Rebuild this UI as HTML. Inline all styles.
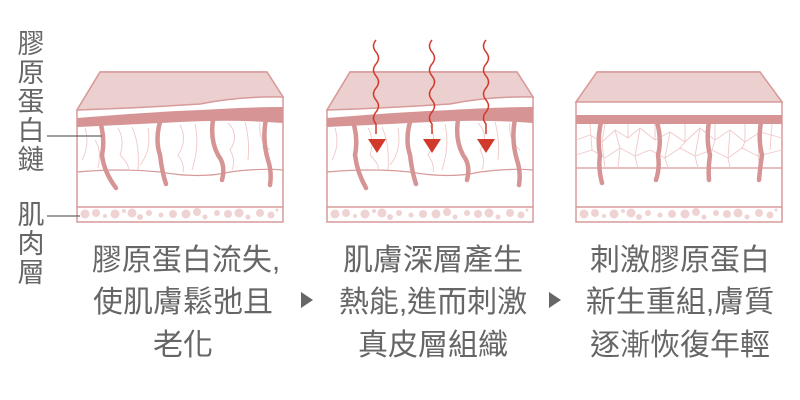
<!DOCTYPE html>
<html><head><meta charset="utf-8"><style>
html,body{margin:0;padding:0;background:#fff;width:800px;height:400px;overflow:hidden}
svg{display:block}
text{font-family:"Liberation Sans","Noto Sans CJK TC",sans-serif;fill:#666}
</style></head><body>
<svg width="800" height="400" viewBox="0 0 800 400" xmlns="http://www.w3.org/2000/svg">
<defs>
<g id="fat">
  <g fill="#efd3d3">
  <circle cx="8" cy="214" r="4.5"/><circle cx="19" cy="213" r="4"/><circle cx="28" cy="216" r="2"/><circle cx="38" cy="214" r="4.5"/><circle cx="47" cy="211" r="2"/><circle cx="55" cy="213" r="4.5"/><circle cx="63" cy="217" r="3"/><circle cx="72" cy="213" r="3"/><circle cx="84" cy="215" r="2.5"/><circle cx="96" cy="214" r="4"/><circle cx="109" cy="214" r="4.5"/><circle cx="120" cy="212" r="4"/><circle cx="128" cy="217" r="2.5"/><circle cx="140" cy="213" r="3"/><circle cx="151" cy="214" r="4"/><circle cx="162" cy="213" r="4.5"/><circle cx="171" cy="217" r="2.5"/><circle cx="183" cy="213" r="4"/><circle cx="194" cy="215" r="3.5"/><circle cx="200" cy="210" r="1.5"/>
  </g>
</g>
</defs>

<!-- Panel 1 -->
<g stroke="#d89a9a" stroke-width="1.5" fill="none">
  <path d="M100,72 L267,72 L283,97 L283,222 L77,222 L77,110 Z" fill="#fff"/>
  <path d="M100,72 L267,72 L283,97 Q240,96 200,104 Q140,108 77,110 Z" fill="#eccfcf"/>
  <path d="M77,118 Q150,112 200,110 Q250,107 283,107 L283,123 Q230,119 180,122 Q120,125 77,127 Z" fill="#d69494" stroke="none"/>
  <path d="M77,172 Q120,168 160,172 Q200,179 230,172 Q260,168 283,170" stroke-width="1.2"/>
  <line x1="77" y1="207" x2="283" y2="207"/>
  <g stroke="#f0c8c8" stroke-width="0.9">
    <path d="M85,128 Q90,145 82,160"/><path d="M118,128 Q125,140 120,155 Q130,165 128,170"/><path d="M132,127 Q140,145 138,170"/><path d="M148,128 Q152,150 140,165"/><path d="M180,125 Q188,140 178,155 Q185,165 183,172"/><path d="M195,124 Q200,145 192,170"/><path d="M228,123 Q240,135 230,150 Q236,160 232,170"/><path d="M245,122 Q250,140 248,160"/><path d="M260,123 Q258,140 270,150"/><path d="M95,140 Q102,150 98,168"/>
  </g>
  <g stroke="#d69494" stroke-width="4.5" stroke-linecap="round">
    <path d="M101,125 Q105,140 102,155 Q104,172 116,188"/>
    <path d="M160,122 Q155,140 160,155 Q162,172 166,184"/>
    <path d="M213,120 Q210,140 218,155 Q226,165 222,180"/>
    <path d="M266,119 Q262,140 268,160 Q272,172 270,185"/>
  </g>
</g>
<g transform="translate(77,0)"><use href="#fat"/></g>

<!-- Panel 2 -->
<g stroke="#d89a9a" stroke-width="1.5" fill="none">
  <path d="M350,72 L517,72 L533,97 L533,222 L327,222 L327,110 Z" fill="#fff"/>
  <path d="M350,72 L517,72 L533,97 Q490,96 450,104 Q390,108 327,110 Z" fill="#eccfcf"/>
  <path d="M327,118 Q400,112 450,110 Q500,107 533,107 L533,123 Q480,119 430,122 Q370,125 327,127 Z" fill="#d69494" stroke="none"/>
  <path d="M327,172 Q370,168 410,172 Q450,179 480,172 Q510,168 533,170" stroke-width="1.2"/>
  <line x1="327" y1="207" x2="533" y2="207"/>
  <g stroke="#f0c8c8" stroke-width="0.9">
    <path d="M335,128 Q340,145 332,160"/><path d="M368,128 Q375,140 370,155 Q380,165 378,170"/><path d="M382,127 Q390,145 388,170"/><path d="M398,128 Q402,150 390,165"/><path d="M430,125 Q438,140 428,155 Q435,165 433,172"/><path d="M445,124 Q450,145 442,170"/><path d="M478,123 Q490,135 480,150 Q486,160 482,170"/><path d="M495,122 Q500,140 498,160"/><path d="M510,123 Q508,140 520,150"/>
  </g>
  <g stroke="#d69494" stroke-width="4.5" stroke-linecap="round">
    <path d="M354,125 Q358,140 355,155 Q357,172 366,188"/>
    <path d="M410,122 Q405,140 410,155 Q412,172 416,184"/>
    <path d="M458,120 Q455,140 463,155 Q471,165 467,180"/>
    <path d="M515,119 Q511,140 517,160 Q521,172 519,185"/>
  </g>
</g>
<g transform="translate(327,0)"><use href="#fat"/></g>
<g stroke="#d13a2a" stroke-width="1.5" fill="none">
  <path d="M376,40 q-5,6 0,12 q5,6 0,12 q-5,6 0,12 q5,6 0,12 q-5,6 0,12 q5,6 0,12 q-5,6 0,12 l0,10"/>
  <path d="M432,40 q-5,6 0,12 q5,6 0,12 q-5,6 0,12 q5,6 0,12 q-5,6 0,12 q5,6 0,12 q-5,6 0,12 l0,10"/>
  <path d="M486,40 q-5,6 0,12 q5,6 0,12 q-5,6 0,12 q5,6 0,12 q-5,6 0,12 q5,6 0,12 q-5,6 0,12 l0,10"/>
</g>
<g fill="#d13a2a">
  <path d="M368,139 L386,139 L377,153 Z"/><path d="M423,139 L441,139 L432,153 Z"/><path d="M477,139 L495,139 L486,153 Z"/>
</g>

<!-- Panel 3 -->
<g stroke="#d89a9a" stroke-width="1.5" fill="none">
  <path d="M597,72 L760,72 L782,102 L782,222 L576,222 L576,102 Z" fill="#fff"/>
  <path d="M597,72 L760,72 L782,102 L576,102 Z" fill="#eccfcf"/>
  <rect x="576" y="115" width="206" height="9" fill="#d69494" stroke="none"/>
  <line x1="576" y1="168" x2="782" y2="168" stroke-width="1.2"/>
  <line x1="576" y1="207" x2="782" y2="207"/>
  <g stroke="#f0c8c8" stroke-width="0.9">
    <path d="M576,140 L590,135 L602,142 L615,130 L628,138 L640,128 L655,140 L670,132 L685,142 L700,128 L715,140 L730,130 L745,142 L760,132 L782,138"/>
    <path d="M576,155 L592,150 L605,158 L620,148 L635,156 L650,150 L665,158 L680,148 L695,156 L712,150 L728,158 L742,148 L758,156 L782,150"/>
    <path d="M590,124 L592,150 M605,124 L602,142 L605,168 M615,130 L620,148 L618,168 M628,124 L628,138 M640,128 L635,156 L638,168 M655,124 L655,140 M670,132 L665,158 L668,168 M685,124 L685,142 L680,148 M700,128 L695,156 L698,168 M715,124 L715,140 L712,150 M730,130 L728,158 L730,168 M745,124 L745,142 L742,148 M760,132 L758,156 L760,168 M772,124 L770,150"/>
  </g>
  <g stroke="#d69494" stroke-width="4.5" stroke-linecap="round">
    <path d="M601,122 Q597,140 600,155 Q598,168 602,183"/>
    <path d="M657,122 Q662,140 658,155 Q660,168 656,180"/>
    <path d="M709,122 Q706,140 710,155 Q708,168 709,180"/>
    <path d="M761,122 Q758,140 762,155 Q760,168 759,180"/>
  </g>
</g>
<g transform="translate(576,0)"><use href="#fat"/></g>

<!-- left labels -->
<g font-size="27" text-anchor="middle">
  <text x="31" y="53">膠</text><text x="31" y="82">原</text><text x="31" y="111">蛋</text><text x="31" y="140">白</text><text x="31" y="169">鏈</text>
  <text x="31" y="224">肌</text><text x="31" y="253">肉</text><text x="31" y="282">層</text>
</g>
<line x1="47" y1="136" x2="102" y2="136" stroke="#666" stroke-width="1.2"/>
<line x1="47" y1="216" x2="80" y2="216" stroke="#666" stroke-width="1.2"/>

<!-- captions -->
<g font-size="30" text-anchor="middle">
  <text x="186" y="270">膠原蛋白流失,</text>
  <text x="183" y="312">使肌膚鬆弛且</text>
  <text x="183" y="355">老化</text>
  <text x="433" y="270">肌膚深層產生</text>
  <text x="433" y="312">熱能,進而刺激</text>
  <text x="433" y="355">真皮層組織</text>
  <text x="680" y="270">刺激膠原蛋白</text>
  <text x="680" y="312">新生重組,膚質</text>
  <text x="680" y="355">逐漸恢復年輕</text>
</g>
<path d="M301,292 L313,300 L301,308 Z" fill="#666"/>
<path d="M549,292 L561,300 L549,308 Z" fill="#666"/>
</svg>
</body></html>
